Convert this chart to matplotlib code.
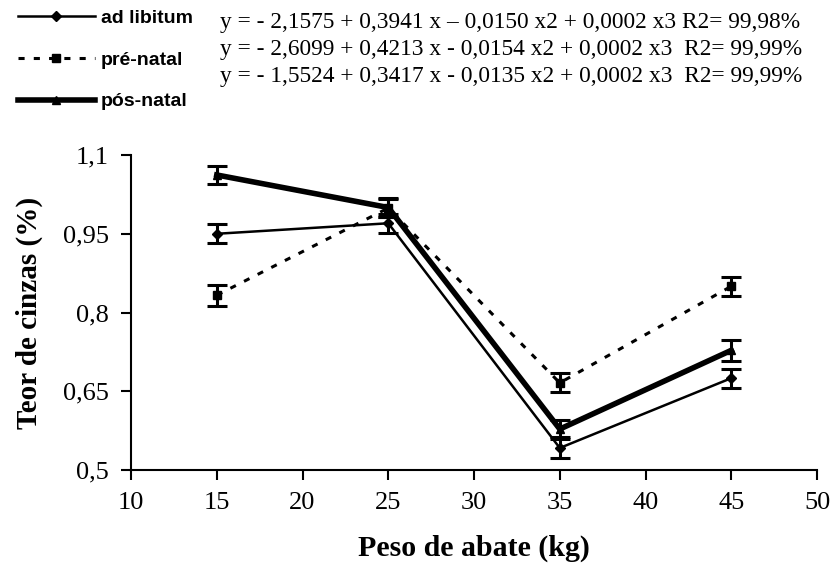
import matplotlib
matplotlib.use("Agg")
import matplotlib.pyplot as plt
from matplotlib.lines import Line2D

x = [15, 25, 35, 45]
ad_libitum = [0.950, 0.970, 0.542, 0.675]
pre_natal = [0.833, 0.999, 0.666, 0.850]
pos_natal = [1.062, 1.000, 0.578, 0.728]
err_ad = [0.018, 0.018, 0.020, 0.018]
err_pre = [0.020, 0.018, 0.018, 0.018]
err_pos = [0.018, 0.018, 0.018, 0.020]

labels = ["ad libitum", "pré-natal", "pós-natal"]
equations = [
    "y = - 2,1575 + 0,3941 x – 0,0150 x2 + 0,0002 x3 R2= 99,98%",
    "y = - 2,6099 + 0,4213 x - 0,0154 x2 + 0,0002 x3  R2= 99,99%",
    "y = - 1,5524 + 0,3417 x - 0,0135 x2 + 0,0002 x3  R2= 99,99%",
]
xticks = [10, 15, 20, 25, 30, 35, 40, 45, 50]
yticks = [0.5, 0.65, 0.8, 0.95, 1.1]
ytick_labels = ["0,5", "0,65", "0,8", "0,95", "1,1"]

plt.rcParams['font.family'] = ['Liberation Serif', 'DejaVu Serif']

fig = plt.figure(figsize=(8.32, 5.67), dpi=100)
ax = fig.add_axes([0.1575, 0.171, 0.8245, 0.5556])

ax.errorbar(x, ad_libitum, yerr=err_ad, color='black', lw=1.8, marker='D', ms=5,
            capsize=7, capthick=2.2, elinewidth=2.2)
ax.errorbar(x, pre_natal, yerr=err_pre, color='black', lw=2.2, ls=(0, (2, 3)),
            marker='s', ms=6, capsize=7, capthick=2.2, elinewidth=2.2)
ax.errorbar(x, pos_natal, yerr=err_pos, color='black', lw=4.0, marker='^', ms=6,
            capsize=7, capthick=2.2, elinewidth=2.2)

ax.set_xlim(10, 50)
ax.set_ylim(0.5, 1.1)
ax.set_xticks(xticks)
ax.set_xticklabels([str(v) for v in xticks], fontsize=19)
ax.set_yticks(yticks)
ax.set_yticklabels(ytick_labels, fontsize=19)
ax.tick_params(direction='out', length=7, width=1.5, pad=9)
for s in ['top', 'right']:
    ax.spines[s].set_visible(False)
for s in ['left', 'bottom']:
    ax.spines[s].set_linewidth(1.5)

ax.set_xlabel("Peso de abate (kg)", fontsize=21.5, fontweight='bold', labelpad=15)
ax.set_ylabel("Teor de cinzas (%)", fontsize=21, fontweight='bold', labelpad=14)

handles = [
    Line2D([], [], color='black', lw=1.8, marker='D', ms=5),
    Line2D([], [], color='black', lw=2.2, ls=(0, (2, 3)), marker='s', ms=6),
    Line2D([], [], color='black', lw=4.0, marker='^', ms=6),
]
fig.legend(handles, labels, loc='upper left', bbox_to_anchor=(0.0, 1.015),
           frameon=False, handlelength=4.0, handletextpad=0.3,
           labelspacing=1.25,
           prop={'family': ['Liberation Sans Narrow', 'Liberation Sans'], 'size': 14, 'weight': 'bold'})

for i, eq in enumerate(equations):
    fig.text(0.264, 0.961 - i * 0.048, eq, fontsize=16.8, ha='left', va='center')

fig.savefig("out.png", dpi=100)
